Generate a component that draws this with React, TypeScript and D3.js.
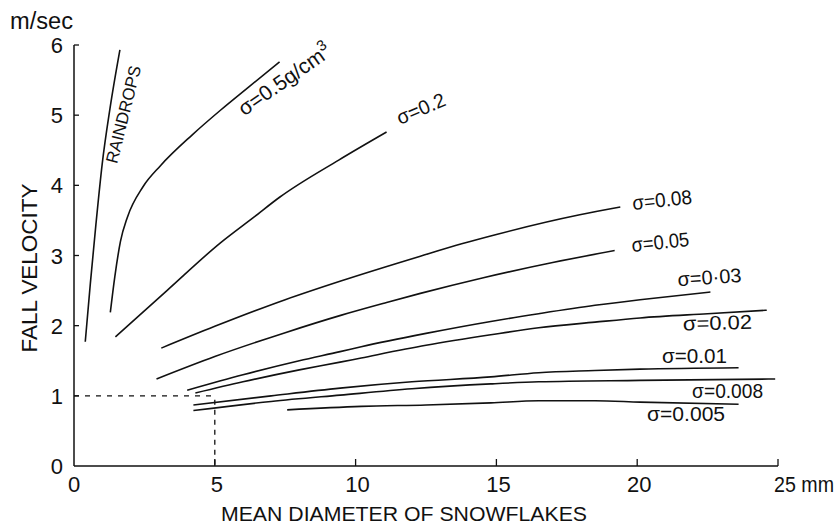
import React from 'react';
import * as d3 from 'd3';

const W = 840;
const H = 526;

// Axis ticks
const xTicks = [0, 5, 10, 15, 20, 25];
const yTicks = [0, 1, 2, 3, 4, 5, 6];
const xTickLabels = ['0', '5', '10', '15', '20', '25 mm'];

// Series (mean diameter mm, fall velocity m/s)
const rainX = [0.4, 0.58, 0.78, 1.0, 1.28, 1.63];
const rainY = [1.77, 2.6, 3.45, 4.3, 5.1, 5.93];
const s05X = [1.29, 1.45, 1.65, 1.9, 2.45, 3.07, 4.2, 5.2, 6.2, 7.3];
const s05Y = [2.19, 2.7, 3.2, 3.55, 3.98, 4.28, 4.72, 5.07, 5.4, 5.76];
const s02X = [1.47, 3.3, 5.2, 6.4, 7.3, 9.4, 11.1];
const s02Y = [1.84, 2.5, 3.18, 3.55, 3.83, 4.36, 4.76];
const s008X = [3.1, 5, 7.5, 9.5, 12.3, 13.8, 15, 17.96, 19.4];
const s008Y = [1.68, 1.99, 2.37, 2.64, 2.99, 3.17, 3.3, 3.58, 3.69];
const s005X = [2.93, 5, 7.5, 9.5, 11.1, 12.3, 14.5, 17, 19.2];
const s005Y = [1.24, 1.56, 1.9, 2.15, 2.33, 2.46, 2.68, 2.9, 3.07];
const s003X = [4.02, 6, 8, 9.45, 10.2, 12.5, 14.8, 16.5, 18.5, 20.1, 22.6];
const s003Y = [1.08, 1.3, 1.5, 1.63, 1.7, 1.89, 2.06, 2.17, 2.29, 2.37, 2.48];
const s002X = [4.31, 6, 8, 9.45, 10.2, 12.5, 14.8, 16.5, 18.5, 20.1, 22.5, 24.6];
const s002Y = [1.04, 1.2, 1.37, 1.48, 1.54, 1.72, 1.87, 1.97, 2.05, 2.11, 2.17, 2.22];
const s001X = [4.24, 7, 9.45, 12, 14.8, 16.5, 18.5, 20.1, 23.6];
const s001Y = [0.87, 1.0, 1.11, 1.2, 1.27, 1.33, 1.36, 1.38, 1.4];
const s0008X = [4.24, 7, 9.45, 12, 14.8, 16.5, 20.1, 24.9];
const s0008Y = [0.79, 0.92, 1.01, 1.1, 1.17, 1.2, 1.22, 1.24];
const s0005X = [7.57, 10.2, 12.5, 14.8, 16.5, 18.5, 20.1, 23.6];
const s0005Y = [0.8, 0.85, 0.87, 0.9, 0.93, 0.93, 0.91, 0.88];

const seriesX = [rainX, s05X, s02X, s008X, s005X, s003X, s002X, s001X, s0008X, s0005X];
const seriesY = [rainY, s05Y, s02Y, s008Y, s005Y, s003Y, s002Y, s001Y, s0008Y, s0005Y];

// Reference point (5 mm, 1 m/s)
const refX = 5;
const refY = 1;

// Labels
const labelTexts = ['RAINDROPS', 'σ=0.2', 'σ=0.08', 'σ=0.05', 'σ=0·03', 'σ=0.02', 'σ=0.01', 'σ=0.008', 'σ=0.005'];
// layout for labels: anchor in data coords, rotation, text length (px)
const labelLayout = [
  { x: 1.53, y: 4.3, rot: -76, len: 100, fs: 17 },
  { x: 11.58, y: 4.86, rot: -23, len: 51, fs: 20 },
  { x: 19.85, y: 3.65, rot: -6, len: 60, fs: 20 },
  { x: 19.82, y: 3.05, rot: -6, len: 58, fs: 20 },
  { x: 21.45, y: 2.56, rot: -4, len: 64, fs: 20 },
  { x: 21.63, y: 1.93, rot: -1.5, len: 69, fs: 20 },
  { x: 20.88, y: 1.47, rot: 0, len: 65, fs: 20 },
  { x: 21.95, y: 0.97, rot: 0, len: 71, fs: 20 },
  { x: 20.35, y: 0.64, rot: 0, len: 78, fs: 20 },
];

const FONT = '"Liberation Sans", Arial, Helvetica, sans-serif';
const INK = '#111';

export default function App() {
  const x = d3.scaleLinear().domain([0, 25]).range([74, 778]);
  const y = d3.scaleLinear().domain([0, 6]).range([466, 45]);

  const line = d3
    .line<[number, number]>()
    .x((d) => x(d[0]))
    .y((d) => y(d[1]))
    .curve(d3.curveMonotoneX);

  const paths = seriesX.map((xs, i) => line(xs.map((v, j) => [v, seriesY[i][j]]) as [number, number][]) || '');

  const s05Anchor = { x: 6.05, y: 4.98 };

  return (
    <svg
      width={W}
      height={H}
      style={{ position: 'absolute', left: 0, top: 0, background: '#fff' }}
      fontFamily={FONT}
    >
      <rect x={0} y={0} width={W} height={H} fill="#fff" />
      {/* axes */}
      <line x1={x(0)} y1={y(6)} x2={x(0)} y2={y(0)} stroke={INK} strokeWidth={1.5} />
      <line x1={x(0)} y1={y(0)} x2={x(25)} y2={y(0)} stroke={INK} strokeWidth={1.5} />
      {yTicks.slice(1).map((t) => (
        <line key={'yt' + t} x1={x(0)} x2={x(0) + 5} y1={y(t)} y2={y(t)} stroke={INK} strokeWidth={1.3} />
      ))}
      {xTicks.slice(1).map((t) => (
        <line key={'xt' + t} x1={x(t)} x2={x(t)} y1={y(0)} y2={y(0) - 7} stroke={INK} strokeWidth={1.3} />
      ))}
      {yTicks.map((t) => (
        <text key={'yl' + t} x={63} y={y(t) + 8} fontSize={22} textAnchor="end" fill={INK}>
          {t}
        </text>
      ))}
      {xTicks.map((t, i) =>
        i === xTicks.length - 1 ? (
          <text key={'xl' + t} x={x(t) - 4} y={492} fontSize={22} textAnchor="start" fill={INK} textLength={60} lengthAdjust="spacingAndGlyphs">
            {xTickLabels[i]}
          </text>
        ) : (
          <text key={'xl' + t} x={x(t) + (t === 0 ? 0 : 2)} y={492} fontSize={22} textAnchor="middle" fill={INK}>
            {xTickLabels[i]}
          </text>
        )
      )}
      <text x={10} y={29} fontSize={23} fill={INK} textLength={63} lengthAdjust="spacingAndGlyphs">
        m/sec
      </text>
      <text
        transform={`translate(37,268) rotate(-90)`}
        fontSize={22}
        textAnchor="middle"
        fill={INK}
        textLength={169}
        lengthAdjust="spacingAndGlyphs"
      >
        FALL VELOCITY
      </text>
      <text x={221} y={521} fontSize={21} fill={INK} textLength={366} lengthAdjust="spacingAndGlyphs">
        MEAN DIAMETER OF SNOWFLAKES
      </text>

      {/* dashed reference */}
      <line x1={x(0)} y1={y(refY)} x2={x(refX)} y2={y(refY)} stroke={INK} strokeWidth={1.3} strokeDasharray="5,6" />
      <line x1={x(refX)} y1={y(refY) + 4} x2={x(refX)} y2={y(0)} stroke={INK} strokeWidth={1.3} strokeDasharray="5,5" />

      {/* curves */}
      {paths.map((d, i) => (
        <path key={'p' + i} d={d} fill="none" stroke={INK} strokeWidth={1.6} />
      ))}

      {/* labels */}
      {labelTexts.map((t, i) => {
        const L = labelLayout[i];
        return (
          <text
            key={'lab' + i}
            transform={`translate(${x(L.x)},${y(L.y)}) rotate(${L.rot})`}
            fontSize={L.fs}
            fill={INK}
            textLength={L.len}
            lengthAdjust="spacingAndGlyphs"
          >
            {t}
          </text>
        );
      })}
      <text transform={`translate(${x(s05Anchor.x)},${y(s05Anchor.y)}) rotate(-35)`} fontSize={21} fill={INK}>
        σ=0.5g/cm
        <tspan fontSize={15} dy={-9}>
          3
        </tspan>
      </text>
    </svg>
  );
}
